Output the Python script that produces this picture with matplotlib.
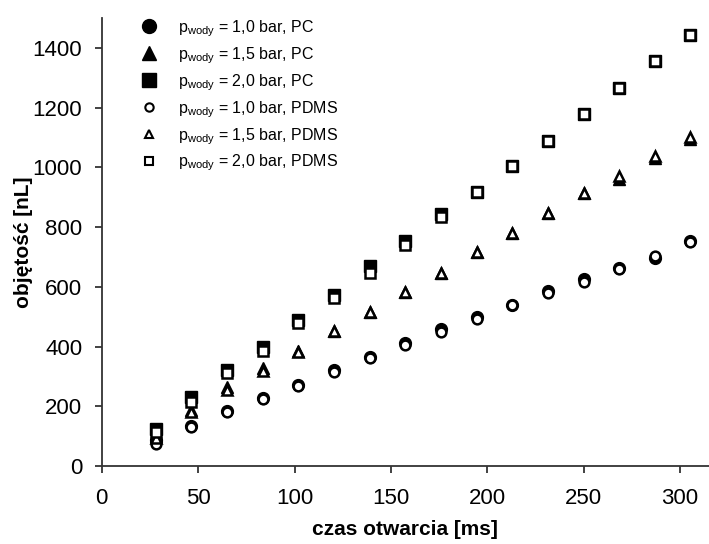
import matplotlib
matplotlib.use("Agg")
import matplotlib.pyplot as plt

plt.rcParams['font.family'] = ['Liberation Sans', 'DejaVu Sans']
plt.rcParams['mathtext.fontset'] = 'custom'
plt.rcParams['mathtext.rm'] = 'Liberation Sans'

# czas otwarcia [ms]
czas = [28, 46.5, 65, 83.5, 102, 120.5, 139, 157.5, 176, 194.5,
        213, 231.5, 250, 268.5, 287, 305]

# objetosc [nL]
pc_10 = [87, 134, 183, 227, 272, 322, 366, 412, 457, 500, 540, 585, 625, 662, 698, 752]
pc_15 = [100, 188, 264, 329, 385, 452, 517, 581, 645, 715, 780, 846, 913, 962, 1030, 1095]
pc_20 = [123, 230, 322, 400, 489, 573, 668, 752, 843, 918, 1005, 1089, 1178, 1265, 1356, 1444]
pdms_10 = [72, 132, 180, 224, 269, 316, 363, 405, 450, 492, 538, 578, 617, 660, 703, 751]
pdms_15 = [95, 182, 255, 319, 383, 452, 517, 581, 645, 715, 780, 846, 913, 972, 1038, 1103]
pdms_20 = [113, 215, 310, 385, 478, 562, 645, 740, 835, 916, 1005, 1089, 1178, 1265, 1356, 1444]

labels = [r'p$_\mathregular{wody}$ = 1,0 bar, PC',
          r'p$_\mathregular{wody}$ = 1,5 bar, PC',
          r'p$_\mathregular{wody}$ = 2,0 bar, PC',
          r'p$_\mathregular{wody}$ = 1,0 bar, PDMS',
          r'p$_\mathregular{wody}$ = 1,5 bar, PDMS',
          r'p$_\mathregular{wody}$ = 2,0 bar, PDMS']

fig = plt.figure(figsize=(7.09, 5.44), dpi=100)
ax = fig.add_axes([0.1435, 0.1434, 0.8565, 0.8236])

ms = 8.5
series = [(pc_10, 'o', 'black'), (pc_15, '^', 'black'), (pc_20, 's', 'black'),
          (pdms_10, 'o', 'white'), (pdms_15, '^', 'white'), (pdms_20, 's', 'white')]
handles = []
for (vals, mk, fc), lab in zip(series, labels):
    if fc == 'black':
        h, = ax.plot(czas, vals, ls='none', marker=mk, ms=ms, mfc='black',
                     mec='black', label=lab)
    else:
        h, = ax.plot(czas, vals, ls='none', marker=mk, ms=ms - 1.5, mfc='white',
                     mec='black', mew=1.8, label=lab)
    handles.append(h)

ax.set_xlim(0, 315)
ax.set_ylim(0, 1500)
ax.set_xticks(range(0, 301, 50))
ax.set_yticks(range(0, 1401, 200))
for s in ['top', 'right']:
    ax.spines[s].set_visible(False)
for s in ['left', 'bottom']:
    ax.spines[s].set_color('#333333')
    ax.spines[s].set_linewidth(1.3)
ax.tick_params(direction='out', length=5, width=1.3, color='#333333',
               labelsize=16)
ax.tick_params(axis='y', pad=9)
ax.tick_params(axis='x', pad=11)

ax.set_xlabel('czas otwarcia [ms]', fontsize=15, fontweight='bold', labelpad=8)
ax.set_ylabel('objętość [nL]', fontsize=15, fontweight='bold', labelpad=0)

leg = ax.legend(handles=handles, loc='upper left', bbox_to_anchor=(0.0647, 1.0),
                frameon=False, fontsize=11.5, handlelength=1.0, handletextpad=1.3,
                labelspacing=0.4, borderpad=0, borderaxespad=0)
for i, lh in enumerate(leg.legend_handles):
    if i < 3:
        lh.set_markersize(10)
    else:
        lh.set_markersize(6)
        lh.set_markeredgewidth(1.5)

fig.savefig('out.png', dpi=100)
